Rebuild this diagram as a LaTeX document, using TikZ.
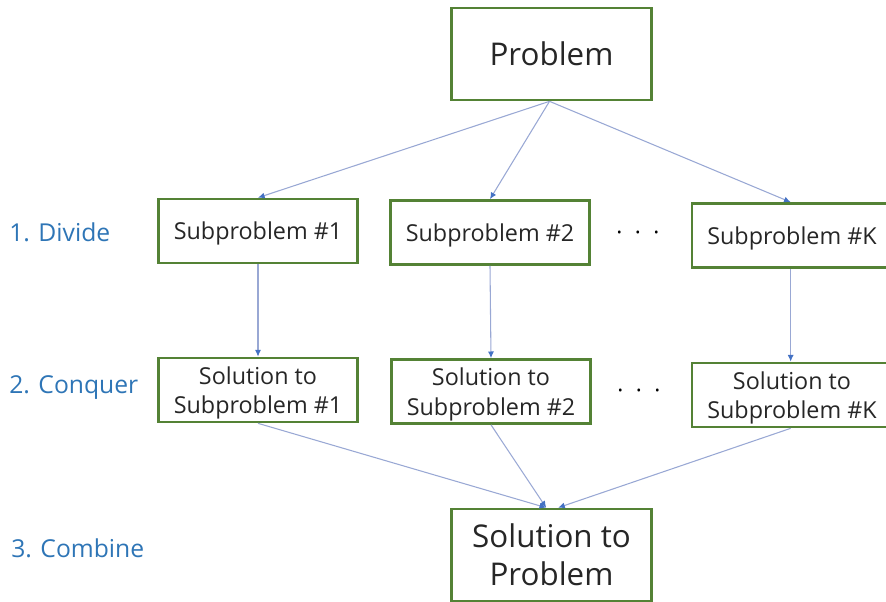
\documentclass[tikz,border=0pt]{standalone}
\usepackage{fontspec}
\setmainfont{Open Sans}
\usetikzlibrary{arrows.meta}
\definecolor{boxgreen}{HTML}{548235}
\definecolor{lblblue}{HTML}{2E75B6}
\definecolor{lineblue}{HTML}{99A8D4}
\definecolor{tipblue}{HTML}{4472C4}
\tikzset{
  box/.style={draw=boxgreen, line width=2pt, fill=white, rectangle, align=center, inner sep=0pt, text=black!85, text depth=0pt},
  bigbox/.style={box, minimum width=150pt, minimum height=69pt, font=\fontsize{23.5}{28.5}\selectfont},
  smallbox/.style={box, minimum width=149pt, minimum height=48pt, font=\fontsize{17.5}{22}\selectfont},
  steplabel/.style={text=lblblue, font=\fontsize{18.5}{22}\selectfont, anchor=west, inner sep=0pt},
  conn/.style={draw=lineblue, line width=0.8pt, -{Latex[length=5pt,width=4.5pt,color=tipblue]}},
  dotsnode/.style={font=\fontsize{17}{19}\selectfont, inner sep=0pt}
}
\begin{document}
\begin{tikzpicture}[x=0.75pt,y=-0.75pt]
\useasboundingbox (0,0) rectangle (886,602);
\node[bigbox] (prob) at (551.5,54) {Problem};
\node[smallbox] (s1) at (258,231) {Subproblem \#1};
\node[smallbox] (s2) at (490,232.5) {Subproblem \#2};
\node[smallbox, minimum width=150pt] (sK) at (792,235.5) {Subproblem \#K};
\node[smallbox] (sol1) at (258,390) {Solution to\\Subproblem \#1};
\node[smallbox] (sol2) at (491,391.5) {Solution to\\Subproblem \#2};
\node[smallbox, minimum width=150pt] (solK) at (792,395) {Solution to\\Subproblem \#K};
\node[bigbox] (solP) at (551.5,555) {Solution to\\Problem};
\node[dotsnode] (d1) at (638,236) {·\hspace{0.55em}·\hspace{0.55em}·};
\node[dotsnode] (d2) at (639,394) {·\hspace{0.55em}·\hspace{0.55em}·};
\node[steplabel] (l1) at (9,232) {1. Divide};
\node[steplabel] (l2) at (9,388) {2. Conquer};
\node[steplabel] (l3) at (11,548) {3. Combine};
\coordinate (pa) at ([xshift=-1.5]prob.south);
\coordinate (ca) at ([xshift=-4]solP.north);
\coordinate (cb) at ([xshift=5]solP.north);
\draw[conn] (pa) -- (s1.north);
\draw[conn] (pa) -- (s2.north);
\draw[conn] (pa) -- ([xshift=-1]sK.north);
\draw[conn] (s1.south) -- (sol1.north);
\draw[conn] (s2.south) -- (sol2.north);
\draw[conn] ([xshift=-1]sK.south) -- ([xshift=-1]solK.north);
\draw[conn] (sol1.south) -- (ca);
\draw[conn] (sol2.south) -- (ca);
\draw[conn] ([xshift=-1]solK.south) -- (cb);
\end{tikzpicture}
\end{document}
